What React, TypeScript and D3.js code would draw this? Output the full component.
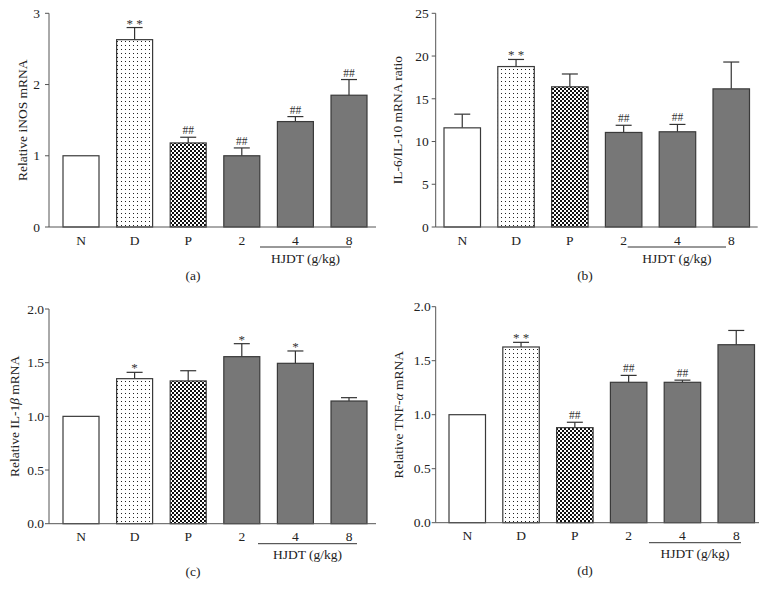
import React from "react";
import * as d3 from "d3";

const categories = ["N", "D", "P", "2", "4", "8"];
const fills = ["white", "url(#dots)", "url(#checks)", "#777777", "#777777", "#777777"];

const inosMean = [1.0, 2.63, 1.18, 1.0, 1.48, 1.85];
const inosErr = [1.0, 2.8, 1.26, 1.11, 1.55, 2.07];
const inosSig = ["", "* *", "##", "##", "##", "##"];

const il6Mean = [11.6, 18.77, 16.4, 11.06, 11.14, 16.16];
const il6Err = [13.2, 19.6, 17.9, 11.9, 12.0, 19.3];
const il6Sig = ["", "* *", "", "##", "##", ""];

const il1Mean = [1.0, 1.351, 1.33, 1.556, 1.494, 1.143];
const il1Err = [1.0, 1.41, 1.425, 1.677, 1.609, 1.174];
const il1Sig = ["", "*", "", "*", "*", ""];

const tnfMean = [1.0, 1.627, 0.88, 1.3, 1.3, 1.648];
const tnfErr = [1.0, 1.67, 0.93, 1.364, 1.32, 1.78];
const tnfSig = ["", "* *", "##", "##", "##", ""];

const ticksA = [0, 1, 2, 3];
const ticksB = [0, 5, 10, 15, 20, 25];
const ticksCD = [0, 0.5, 1.0, 1.5, 2.0];

type Panel = {
  mean: number[];
  err: number[];
  sig: string[];
  ticks: number[];
  fmt: string;
  max: number;
  ylabel: React.ReactNode;
  tag: string;
  axisX: number;
  axisEnd: number;
  yTop: number;
  yBottom: number;
  bandLeft: number;
  step: number;
  bw: number;
  hjdt: [number, number];
  ylabelX: number;
  tagX: number;
  tickGap: number;
};

const FONT = "'Liberation Serif', 'DejaVu Serif', serif";
const FS = 13.5;

function BarPanel({ p }: { p: Panel }) {
  const y = d3.scaleLinear().domain([0, p.max]).range([p.yBottom, p.yTop]);
  const pi = 1 - p.bw / p.step;
  const po = (p.bandLeft - p.axisX) / p.step;
  const x = d3
    .scaleBand<string>()
    .domain(categories)
    .range([p.axisX, p.axisX + p.step * (categories.length - pi + 2 * po)])
    .paddingInner(pi)
    .paddingOuter(po);
  const fmt = d3.format(p.fmt);
  const axisColor = "#555";
  const catY = p.yBottom + 13;
  return (
    <g>
      <line x1={p.axisX} x2={p.axisX} y1={p.yTop} y2={p.yBottom} stroke={axisColor} strokeWidth={1} />
      {p.ticks.map((t) => (
        <g key={t}>
          <line x1={p.axisX - 4} x2={p.axisX} y1={y(t)} y2={y(t)} stroke={axisColor} strokeWidth={1} />
          <text x={p.axisX - p.tickGap} y={y(t)} dy="0.35em" textAnchor="end" fontSize={FS} fontFamily={FONT} fill="#222">
            {fmt(t)}
          </text>
        </g>
      ))}
      <text
        transform={`translate(${p.ylabelX},${(p.yTop + p.yBottom) / 2}) rotate(-90)`}
        textAnchor="middle"
        dy="0.35em"
        fontSize={FS}
        fontFamily={FONT}
        fill="#222"
      >
        {p.ylabel}
      </text>
      {categories.map((c, i) => {
        const x0 = x(c)!;
        const cx = x0 + x.bandwidth() / 2;
        const top = y(p.mean[i]);
        const et = y(p.err[i]);
        return (
          <g key={c}>
            {p.err[i] > p.mean[i] && (
              <g stroke="#333" strokeWidth={1.2}>
                <line x1={cx} x2={cx} y1={top} y2={et} />
                <line x1={cx - 8} x2={cx + 8} y1={et} y2={et} />
              </g>
            )}
            <rect
              x={x0}
              y={top}
              width={x.bandwidth()}
              height={p.yBottom - top}
              fill={fills[i]}
              stroke="#3a3a3a"
              strokeWidth={1.2}
            />
            {p.sig[i] && (
              <text
                x={cx}
                y={et - (p.sig[i].includes("*") ? 0 : 3)}
                textAnchor="middle"
                fontSize={p.sig[i].includes("*") ? 13 : 11.5}
                fontFamily={FONT}
                fill="#333"
              >
                {p.sig[i]}
              </text>
            )}
            <text x={cx} y={catY} dy="0.35em" textAnchor="middle" fontSize={FS} fontFamily={FONT} fill="#222">
              {c}
            </text>
          </g>
        );
      })}
      <line x1={p.axisX} x2={p.axisEnd} y1={p.yBottom} y2={p.yBottom} stroke={axisColor} strokeWidth={1} />
      <line x1={p.hjdt[0]} x2={p.hjdt[1]} y1={p.yBottom + 20} y2={p.yBottom + 20} stroke="#333" strokeWidth={1} />
      <text
        x={(p.hjdt[0] + p.hjdt[1]) / 2}
        y={p.yBottom + 31}
        dy="0.35em"
        textAnchor="middle"
        fontSize={FS}
        fontFamily={FONT}
        fill="#222"
      >
        HJDT (g/kg)
      </text>
      <text x={p.tagX} y={p.yBottom + 48} dy="0.35em" textAnchor="middle" fontSize={FS} fontFamily={FONT} fill="#222">
        {p.tag}
      </text>
    </g>
  );
}

const panels: Panel[] = [
  {
    mean: inosMean, err: inosErr, sig: inosSig, ticks: ticksA, fmt: "d", max: 3,
    ylabel: "Relative iNOS mRNA", tag: "(a)",
    axisX: 49, axisEnd: 376, yTop: 13.3, yBottom: 227, bandLeft: 63, step: 53.6, bw: 36,
    hjdt: [260, 351], ylabelX: 22, tagX: 193, tickGap: 9,
  },
  {
    mean: il6Mean, err: il6Err, sig: il6Sig, ticks: ticksB, fmt: "d", max: 25,
    ylabel: "IL-6/IL-10 mRNA ratio", tag: "(b)",
    axisX: 435.7, axisEnd: 757.7, yTop: 13.3, yBottom: 227, bandLeft: 444, step: 53.8, bw: 36.5,
    hjdt: [627.7, 726], ylabelX: 397, tagX: 585, tickGap: 7,
  },
  {
    mean: il1Mean, err: il1Err, sig: il1Sig, ticks: ticksCD, fmt: ".1f", max: 2,
    ylabel: (
      <>
        Relative IL-1<tspan fontStyle="italic">β</tspan> mRNA
      </>
    ),
    tag: "(c)",
    axisX: 49, axisEnd: 376, yTop: 309, yBottom: 523.7, bandLeft: 63, step: 53.6, bw: 36,
    hjdt: [258, 357], ylabelX: 14, tagX: 193, tickGap: 5,
  },
  {
    mean: tnfMean, err: tnfErr, sig: tnfSig, ticks: ticksCD, fmt: ".1f", max: 2,
    ylabel: (
      <>
        Relative TNF-<tspan fontStyle="italic">α</tspan> mRNA
      </>
    ),
    tag: "(d)",
    axisX: 435.7, axisEnd: 759, yTop: 306.7, yBottom: 522.7, bandLeft: 449, step: 53.8, bw: 36.5,
    hjdt: [649, 741], ylabelX: 398, tagX: 585, tickGap: 5,
  },
];

export default function App() {
  return (
    <svg
      width={773}
      height={606}
      style={{ position: "absolute", left: 0, top: 0, background: "white" }}
    >
      <defs>
        <pattern id="dots" width={4} height={4} patternUnits="userSpaceOnUse">
          <rect width={4} height={4} fill="white" />
          <rect x={1} y={1} width={1} height={1} fill="#222" />
        </pattern>
        <pattern id="checks" width={4} height={4} patternUnits="userSpaceOnUse">
          <rect width={4} height={4} fill="white" />
          <rect x={0} y={0} width={2} height={2} fill="#111" />
          <rect x={2} y={2} width={2} height={2} fill="#111" />
        </pattern>
      </defs>
      <rect width={773} height={606} fill="white" />
      {panels.map((p, i) => (
        <BarPanel key={i} p={p} />
      ))}
    </svg>
  );
}
